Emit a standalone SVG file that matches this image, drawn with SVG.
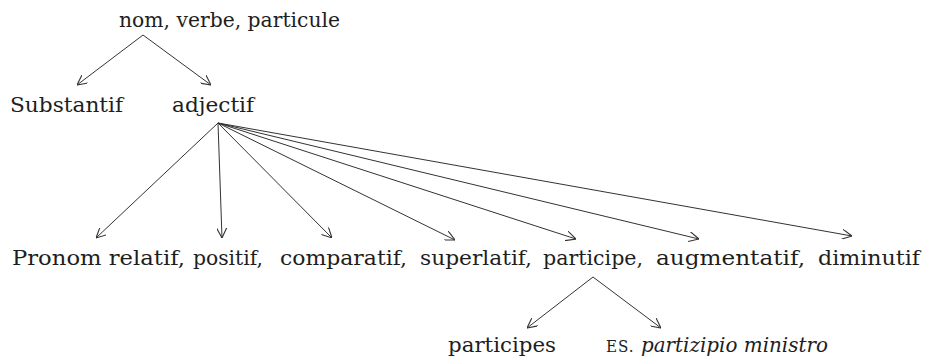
<svg xmlns="http://www.w3.org/2000/svg" width="928" height="360" viewBox="0 0 928 360">
<style>
  text { font-family: "DejaVu Serif", "Liberation Serif", serif; font-size: 21px; fill: #1e1e1e; }
  .it { font-style: italic; }
  .sc { font-size: 16px; letter-spacing: 1px; }
  .edge { stroke: #333; stroke-width: 1; fill: none; marker-end: url(#arr); }
</style>
<defs>
  <marker id="arr" viewBox="0 0 10 10" refX="10" refY="5" markerWidth="10" markerHeight="10" orient="auto" markerUnits="userSpaceOnUse">
    <path d="M0,0 L10,5 L0,10" fill="none" stroke="#333" stroke-width="1.1"/>
  </marker>
</defs>
<rect width="928" height="360" fill="#fff"/>
<g id="connectors">
  <line class="edge" x1="143" y1="35" x2="77" y2="85"/>
  <line class="edge" x1="143" y1="35" x2="211" y2="85"/>
  <line class="edge" x1="218" y1="123" x2="96" y2="238"/>
  <line class="edge" x1="218" y1="123" x2="222" y2="238"/>
  <line class="edge" x1="218" y1="123" x2="332" y2="238"/>
  <line class="edge" x1="218" y1="123" x2="455" y2="240"/>
  <line class="edge" x1="218" y1="123" x2="576" y2="239"/>
  <line class="edge" x1="218" y1="123" x2="699" y2="239"/>
  <line class="edge" x1="218" y1="123" x2="852" y2="236"/>
  <line class="edge" x1="593" y1="277" x2="527" y2="328"/>
  <line class="edge" x1="593" y1="277" x2="661" y2="328"/>
</g>
<g id="n-root"><text x="119" y="27" textLength="221" lengthAdjust="spacingAndGlyphs">nom, verbe, particule</text></g>
<g id="n-substantif"><text x="10" y="112" textLength="113" lengthAdjust="spacingAndGlyphs">Substantif</text></g>
<g id="n-adjectif"><text x="172" y="112" textLength="82" lengthAdjust="spacingAndGlyphs">adjectif</text></g>
<g id="n-pronom"><text x="12" y="265" textLength="173" lengthAdjust="spacingAndGlyphs">Pronom relatif,</text></g>
<g id="n-positif"><text x="193" y="265" textLength="70" lengthAdjust="spacingAndGlyphs">positif,</text></g>
<g id="n-comparatif"><text x="280" y="265" textLength="127" lengthAdjust="spacingAndGlyphs">comparatif,</text></g>
<g id="n-superlatif"><text x="420" y="265" textLength="112" lengthAdjust="spacingAndGlyphs">superlatif,</text></g>
<g id="n-participe"><text x="543" y="265" textLength="100" lengthAdjust="spacingAndGlyphs">participe,</text></g>
<g id="n-augmentatif"><text x="656" y="265" textLength="149" lengthAdjust="spacingAndGlyphs">augmentatif,</text></g>
<g id="n-diminutif"><text x="818" y="265" textLength="102" lengthAdjust="spacingAndGlyphs">diminutif</text></g>
<g id="n-participes"><text x="448" y="352" textLength="108" lengthAdjust="spacingAndGlyphs">participes</text></g>
<g id="n-es"><text x="606" y="352" textLength="222" lengthAdjust="spacingAndGlyphs"><tspan class="sc">ES.</tspan> <tspan class="it">partizipio ministro</tspan></text></g>
</svg>
